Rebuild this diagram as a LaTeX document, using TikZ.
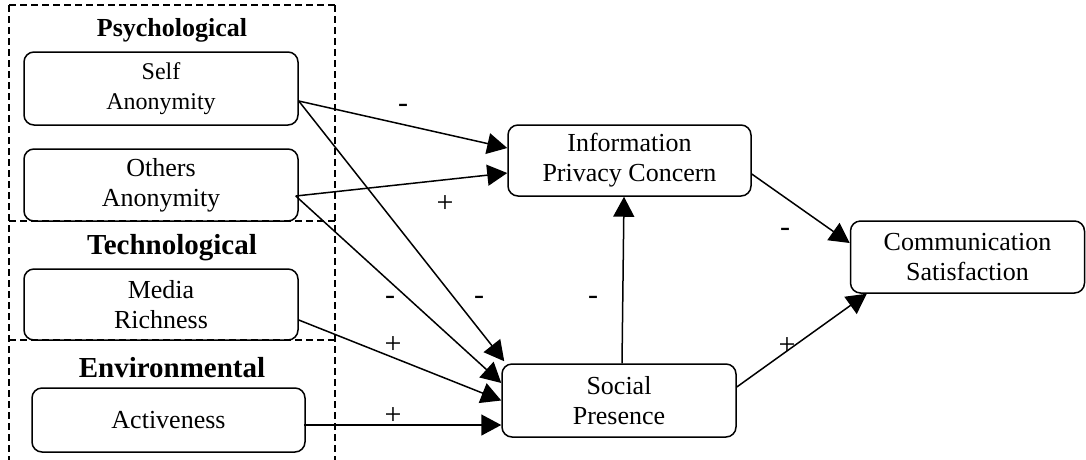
\documentclass[tikz,border=0pt]{standalone}
\usepackage{fontspec}
\setmainfont{Liberation Serif}
\usetikzlibrary{arrows.meta,calc}
\begin{document}
\begin{tikzpicture}[x=1pt,y=-1pt,
  box/.style={draw, line width=1.5pt, rounded corners=10pt, align=center, inner sep=0pt, font=\fontsize{26}{30}\selectfont},
  grp/.style={dash pattern=on 7pt off 4pt, line width=1.3pt},
  hdr/.style={font=\fontsize{29}{32}\selectfont\bfseries, inner sep=0pt},
  arr/.style={line width=1.5pt, -{Triangle[length=20pt,width=21pt]}},
  sgn/.style={font=\fontsize{30}{32}\selectfont, inner sep=0pt}]
\useasboundingbox (0,0) rectangle (1086,459);
% group frames
\draw[grp] (9,5) -- (335,5);
\draw[grp] (9,221) -- (335,221);
\draw[grp] (9,340) -- (335,340);
\draw[grp] (9,5) -- (9,462);
\draw[grp] (335,5) -- (335,462);
% headers
\node[hdr, font=\fontsize{26}{30}\selectfont\bfseries] (hpsy) at (172,30) {Psychological};
\node[hdr] (htec) at (172,248) {Technological};
\node[hdr] (henv) at (172,368) {Environmental};
% nodes
\node[box, minimum width=274pt, minimum height=73pt, font=\fontsize{24}{30}\selectfont] (self) at (161,88.5) {Self\\Anonymity};
\node[box, minimum width=274pt, minimum height=72pt] (others) at (161,185) {Others\\Anonymity};
\node[box, minimum width=274pt, minimum height=71pt] (media) at (161,304.5) {Media\\Richness};
\node[box, minimum width=273pt, minimum height=64pt] (active) at (168.5,420) {Activeness};
\node[box, minimum width=243pt, minimum height=71pt] (ipc) at (629.5,160.5) {Information\\Privacy Concern};
\node[box, minimum width=234pt, minimum height=73pt] (sp) at (619,400.5) {Social\\Presence};
\node[box, minimum width=234pt, minimum height=72pt] (cs) at (967.5,257) {Communication\\Satisfaction};
% connectors
\draw[arr] ($(self.east)+(0,12.5)$) -- ($(ipc.west)+(0,-12.5)$);
\draw[arr] ($(self.east)+(0,12.5)$) -- ($(sp.north west)+(3,-2)$);
\draw[arr] ($(others.east)+(-3,11)$) -- ($(ipc.west)+(0,12.5)$);
\draw[arr] ($(others.east)+(-3,11)$) -- ($(sp.west)+(0,-17.5)$);
\draw[arr] ($(media.east)+(0,15.5)$) -- ($(sp.west)+(0,0)$);
\draw[arr] ($(active.east)+(-2,5)$) -- ($(sp.west)+(0,24.5)$);
\draw[arr] ($(sp.north)+(3,0)$) -- ($(ipc.south)+(-5.5,0)$);
\draw[arr] ($(ipc.east)+(0,13.5)$) -- ($(cs.west)+(0,-14)$);
\draw[arr] ($(sp.east)+(0,-13.5)$) -- ($(cs.south west)+(17,0)$);
% signs
\node[sgn] (s1) at (403,108) {-};
\node[sgn] (s2) at (479,300) {-};
\node[sgn] (s3) at (445,204) {+};
\node[sgn] (s4) at (390,300) {-};
\node[sgn] (s5) at (393,345) {+};
\node[sgn] (s6) at (393,416) {+};
\node[sgn] (s7) at (593,300) {-};
\node[sgn] (s8) at (785,232) {-};
\node[sgn] (s9) at (787,346) {+};
\end{tikzpicture}
\end{document}
